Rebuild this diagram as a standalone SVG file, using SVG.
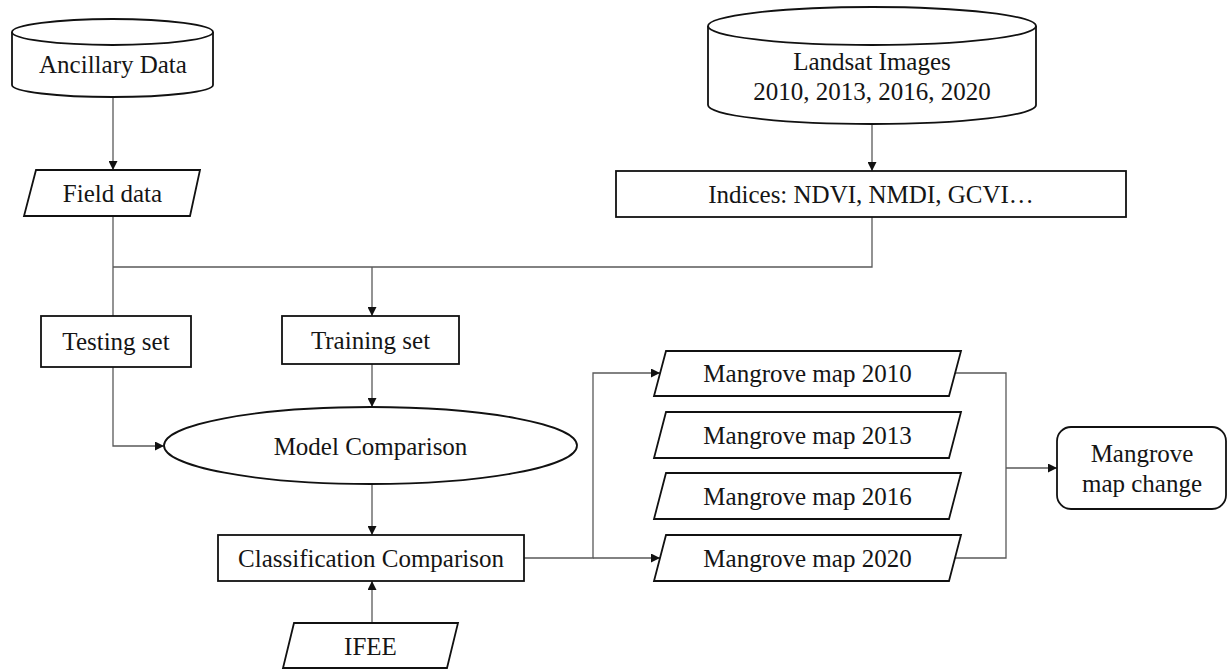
<svg xmlns="http://www.w3.org/2000/svg" width="1228" height="670" viewBox="0 0 1228 670">
<style>
.s{fill:#fff;stroke:#111;stroke-width:1.8}
.t{font-family:"Liberation Serif","Times New Roman",serif;font-size:25px;fill:#151515;text-anchor:middle}
.c{fill:none;stroke:#595959;stroke-width:1.3}
</style>
<defs>
<marker id="ah" markerUnits="userSpaceOnUse" markerWidth="9" markerHeight="9" refX="9" refY="4.5" orient="auto">
<path d="M0,0 L9,4.5 L0,9 z" fill="#111"/>
</marker>
</defs>
<rect width="1228" height="670" fill="#fff"/>
<g id="connectors">
<path class="c" d="M113,97 V170" marker-end="url(#ah)"/>
<path class="c" d="M872,124 V171" marker-end="url(#ah)"/>
<path class="c" d="M113,216 V316"/>
<path class="c" d="M872,217 V267 H113"/>
<path class="c" d="M372,267 V316" marker-end="url(#ah)"/>
<path class="c" d="M113,367 V446 H164" marker-end="url(#ah)"/>
<path class="c" d="M372,364 V407" marker-end="url(#ah)"/>
<path class="c" d="M372,484 V535" marker-end="url(#ah)"/>
<path class="c" d="M372,623 V581" marker-end="url(#ah)"/>
<path class="c" d="M524,558 H593 V373 H660" marker-end="url(#ah)"/>
<path class="c" d="M593,558 H660" marker-end="url(#ah)"/>
<path class="c" d="M955,373 H1006 V558 H955"/>
<path class="c" d="M1006,468 H1057" marker-end="url(#ah)"/>
</g>
<g id="ancillary">
<path class="s" d="M12,32 V85 A100.5,12 0 0 0 213,85 V32"/>
<ellipse class="s" cx="112.5" cy="32" rx="100.5" ry="13"/>
<text class="t" x="113" y="73">Ancillary Data</text>
</g>
<g id="landsat">
<path class="s" d="M708,26 V105 A164,19 0 0 0 1036,105 V26"/>
<ellipse class="s" cx="872" cy="26" rx="164" ry="19"/>
<text class="t" x="872" y="70">Landsat Images</text>
<text class="t" x="872" y="100">2010, 2013, 2016, 2020</text>
</g>
<g id="field-data">
<polygon class="s" points="36,170 200,170 190,216 24,216"/>
<text class="t" x="112.5" y="202">Field data</text>
</g>
<g id="indices">
<rect class="s" x="616" y="171" width="510" height="46"/>
<text class="t" x="871" y="203">Indices: NDVI, NMDI, GCVI…</text>
</g>
<g id="testing-set">
<rect class="s" x="41" y="316" width="150" height="51"/>
<text class="t" x="116" y="350">Testing set</text>
</g>
<g id="training-set">
<rect class="s" x="282" y="316" width="177" height="48"/>
<text class="t" x="370.5" y="349">Training set</text>
</g>
<g id="model-comparison">
<ellipse class="s" cx="370.5" cy="445.5" rx="206.5" ry="38.5"/>
<text class="t" x="370.5" y="455">Model Comparison</text>
</g>
<g id="classification-comparison">
<rect class="s" x="218" y="535" width="306" height="46"/>
<text class="t" x="371" y="567">Classification Comparison</text>
</g>
<g id="ifee">
<polygon class="s" points="294,623 458,623 447,668 283,668"/>
<text class="t" x="370.5" y="655">IFEE</text>
</g>
<g id="map-2010">
<polygon class="s" points="666,351 961,351 949,396 654,396"/>
<text class="t" x="807.5" y="382">Mangrove map 2010</text>
</g>
<g id="map-2013">
<polygon class="s" points="666,412 961,412 949,458 654,458"/>
<text class="t" x="807.5" y="444">Mangrove map 2013</text>
</g>
<g id="map-2016">
<polygon class="s" points="666,473 961,473 949,519 654,519"/>
<text class="t" x="807.5" y="505">Mangrove map 2016</text>
</g>
<g id="map-2020">
<polygon class="s" points="666,535 961,535 949,581 654,581"/>
<text class="t" x="807.5" y="567">Mangrove map 2020</text>
</g>
<g id="map-change">
<rect class="s" x="1057" y="427" width="169" height="82" rx="14"/>
<text class="t" x="1142" y="462">Mangrove</text>
<text class="t" x="1142" y="492">map change</text>
</g>
</svg>
